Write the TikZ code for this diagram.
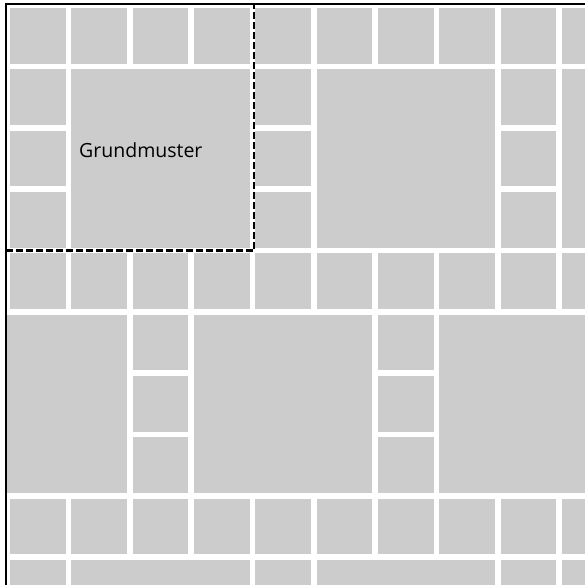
\documentclass[tikz,border=0pt]{standalone}
\usepackage{fontspec}
\setsansfont{Open Sans}
\usepackage{xcolor}
\usepackage{tikz}
\definecolor{tilegray}{HTML}{CCCCCC}
\newcommand{\tilestep}{61.33}
\newcommand{\tilesize}{55.8}
\newcommand{\bigsize}{178.46}
\newcommand{\smalltile}[2]{\fill[tile] ({10+(#1)*\tilestep},{8+(#2)*\tilestep}) rectangle ++(\tilesize,\tilesize);}
\newcommand{\bigtile}[2]{\fill[tile] ({10+(#1)*\tilestep},{8+(#2)*\tilestep}) rectangle ++(\bigsize,\bigsize);}
\tikzset{
  tile/.style={fill=tilegray, draw=none},
  frame/.style={draw=black, line width=2.6pt},
  cut/.style={draw=black, line width=2.4pt, dash pattern=on 6.5pt off 3.5pt},
  lbl/.style={font=\sffamily\fontsize{19.5}{22}\selectfont, inner sep=0pt}
}

\begin{document}
\begin{tikzpicture}[x=1pt, y=-1pt]
\useasboundingbox (0,0) rectangle (585,584);
\clip (0,0) rectangle (585,584);
\begin{scope}
\clip (6,4) rectangle (585,584);
\foreach \bj in {0,1,2}{
  \pgfmathtruncatemacro{\off}{2*mod(\bj,2)}
  \pgfmathtruncatemacro{\rz}{4*\bj}
  \foreach \bi in {-1,0,1,2}{
    \pgfmathtruncatemacro{\cz}{\off+4*\bi}
    \foreach \k in {0,...,3}{\smalltile{\cz+\k}{\rz}}
    \foreach \k in {1,2,3}{\smalltile{\cz}{\rz+\k}}
    \bigtile{\cz+1}{\rz+1}
  }
}
\end{scope}
\draw[frame] (6,4) rectangle (620,620);
\draw[cut] (6,250.5) -| (254,4);
\node[lbl, anchor=base west] (grund) at (79,157.7) {Grundmuster};
\end{tikzpicture}
\end{document}
